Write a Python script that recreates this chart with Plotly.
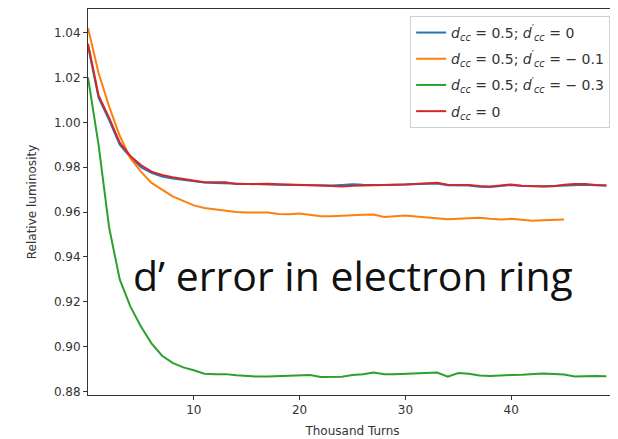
import plotly.graph_objects as go

# Thousand turns
turns = list(range(0, 50))
turns_orange = list(range(0, 46))

lum_blue = [1.034, 1.011, 1.001, 0.990, 0.9845, 0.9800, 0.9775, 0.9758, 0.9750, 0.9744,
            0.9736, 0.9732, 0.9730, 0.9728, 0.9726, 0.9725, 0.9724, 0.9723, 0.9722, 0.9721,
            0.9721, 0.9720, 0.9718, 0.9718, 0.9721, 0.9724, 0.9722, 0.9720, 0.9721, 0.9722,
            0.9723, 0.9724, 0.9727, 0.9727, 0.9720, 0.9721, 0.9719, 0.9713, 0.9712, 0.9716,
            0.9721, 0.9716, 0.9714, 0.9715, 0.9716, 0.9719, 0.9721, 0.9722, 0.9720, 0.9719]

lum_orange = [1.042, 1.022, 1.007, 0.994, 0.984, 0.978, 0.973, 0.970, 0.967, 0.965,
              0.963, 0.9618, 0.9612, 0.9605, 0.9600, 0.9598, 0.9598, 0.9598, 0.9592, 0.9590,
              0.9594, 0.9588, 0.9581, 0.9582, 0.9585, 0.9586, 0.9588, 0.9589, 0.9578, 0.9582,
              0.9585, 0.9580, 0.9576, 0.9575, 0.9568, 0.9570, 0.9573, 0.9575, 0.9570, 0.9567,
              0.9570, 0.9566, 0.9562, 0.9564, 0.9566, 0.9567]

lum_green = [1.020, 0.990, 0.953, 0.930, 0.918, 0.909, 0.9015, 0.896, 0.8928, 0.8908,
             0.8895, 0.8880, 0.8877, 0.8878, 0.8873, 0.8869, 0.8867, 0.8867, 0.8869, 0.8872,
             0.8875, 0.8874, 0.8865, 0.8864, 0.8866, 0.8874, 0.8877, 0.8885, 0.8878, 0.8878,
             0.8880, 0.8882, 0.8884, 0.8885, 0.8867, 0.8883, 0.8880, 0.8872, 0.8870, 0.8873,
             0.8874, 0.8875, 0.8877, 0.8881, 0.8879, 0.8876, 0.8867, 0.8869, 0.8870, 0.8869]

lum_red = [1.035, 1.012, 1.002, 0.991, 0.985, 0.981, 0.978, 0.9765, 0.9755, 0.9748,
           0.9738, 0.9733, 0.9733, 0.9733, 0.9725, 0.9726, 0.9726, 0.9726, 0.9724, 0.9723,
           0.9723, 0.9721, 0.9719, 0.9716, 0.9714, 0.9717, 0.9719, 0.9721, 0.9722, 0.9722,
           0.9723, 0.9725, 0.9729, 0.9731, 0.9722, 0.9723, 0.9721, 0.9716, 0.9714, 0.9718,
           0.9723, 0.9717, 0.9714, 0.9714, 0.9715, 0.9722, 0.9725, 0.9725, 0.9721, 0.9719]

names = [
    "<i>d</i><sub><i>cc</i></sub> = 0.5; <i>d</i><sup>′</sup><sub><i>cc</i></sub> = 0",
    "<i>d</i><sub><i>cc</i></sub> = 0.5; <i>d</i><sup>′</sup><sub><i>cc</i></sub> = − 0.1",
    "<i>d</i><sub><i>cc</i></sub> = 0.5; <i>d</i><sup>′</sup><sub><i>cc</i></sub> = − 0.3",
    "<i>d</i><sub><i>cc</i></sub> = 0",
]
colors = ["#1f77b4", "#ff7f0e", "#2ca02c", "#d62728"]

x_ticks = [10, 20, 30, 40, 50]
y_ticks = [0.88, 0.90, 0.92, 0.94, 0.96, 0.98, 1.00, 1.02, 1.04]

fig = go.Figure()
series = [(turns, lum_blue), (turns_orange, lum_orange), (turns, lum_green), (turns, lum_red)]
for i, ((xs, ys), name, c) in enumerate(zip(series, names, colors)):
    fig.add_trace(go.Scatter(x=xs, y=ys, mode="lines", name=name, legendgroup=f"g{i}",
                             line=dict(color=c, width=2)))

fig.add_annotation(text="d’ error in electron ring", xref="paper", yref="paper",
                   x=0.50, y=0.31, showarrow=False, xanchor="center", yanchor="middle",
                   font=dict(family="Open Sans", size=41, color="#111"))

axis_font = dict(family="DejaVu Sans", size=12, color="#333")
fig.update_layout(
    width=610, height=431,
    margin=dict(l=80, r=1, t=1, b=44, autoexpand=False),
    paper_bgcolor="white", plot_bgcolor="white",
    font=axis_font,
    showlegend=True,
    legend=dict(x=0.987, y=0.982, xanchor="right", yanchor="top",
                bgcolor="rgba(255,255,255,0.9)", bordercolor="#d0d0d0", borderwidth=1,
                font=dict(family="DejaVu Sans", size=14, color="#333"),
                itemwidth=30, tracegroupgap=5),
    xaxis=dict(range=[0, 50], tickvals=x_ticks, ticks="outside", ticklen=4,
               tickcolor="#333", showline=True, linecolor="#333", linewidth=1,
               mirror=True, showgrid=False, zeroline=False, ticklabeloverflow="allow",
               automargin=False,
               title=dict(text="Thousand Turns", font=axis_font, standoff=10)),
    yaxis=dict(range=[0.8785, 1.0505], tickvals=y_ticks, tickformat=".2f",
               ticks="outside", ticklen=4, tickcolor="#333", showline=True,
               linecolor="#333", linewidth=1, mirror=True, showgrid=False,
               zeroline=False, automargin=False,
               title=dict(text="Relative luminosity", font=axis_font, standoff=14)),
)

fig.write_html("out.html")
